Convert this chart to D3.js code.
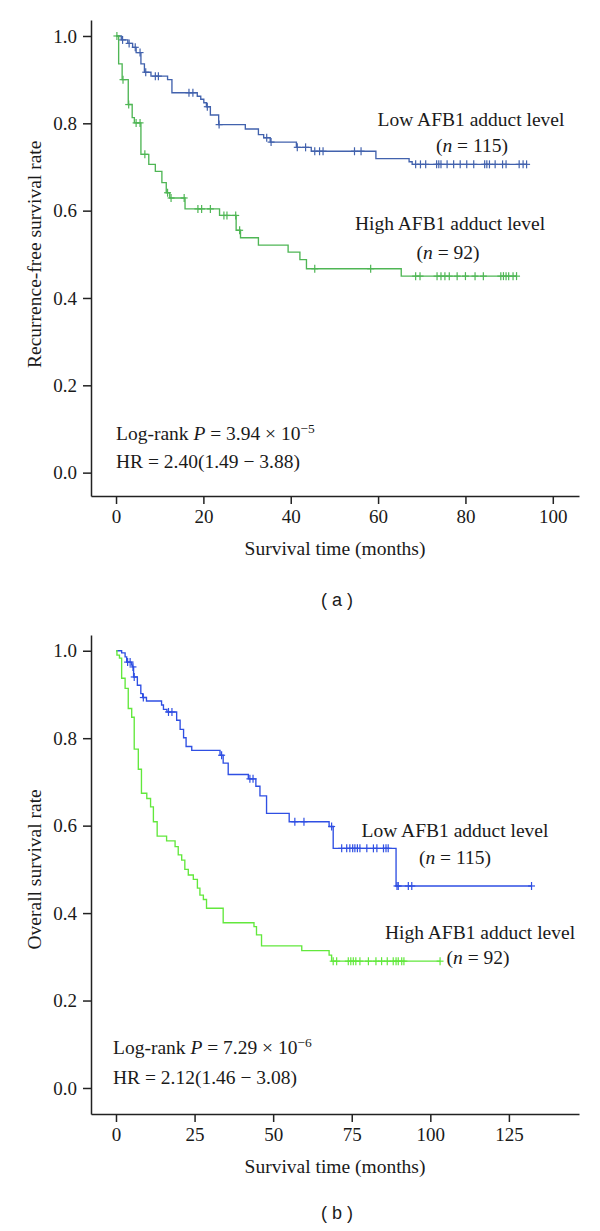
<!DOCTYPE html>
<html><head><meta charset="utf-8">
<script src="https://cdn.jsdelivr.net/npm/d3@7/dist/d3.min.js"></script>
<style>
body{margin:0;background:#fff;}
svg{display:block;}
text{fill:#1a1a1a;}
</style></head>
<body>
<svg id="c" width="600" height="1231"></svg>
<script>
// ---------- DATA ----------
const survTicks = [0, 0.2, 0.4, 0.6, 0.8, 1.0];
const timeTicksA = [0, 20, 40, 60, 80, 100];
const timeTicksB = [0, 25, 50, 75, 100, 125];

// Panel (a): recurrence-free survival. events: [time (months), survival after drop]
const lowEventsA = [[1.2,0.991],[2.7,0.983],[3.8,0.974],[4.6,0.962],[5.7,0.936],[6.5,0.917],[8.0,0.908],
  [11.8,0.900],[12.8,0.870],[18.6,0.862],[19.4,0.855],[20.1,0.847],[20.7,0.838],[21.6,0.819],[23.5,0.797],
  [29.6,0.787],[32.6,0.774],[33.8,0.767],[35.3,0.757],[41.3,0.745],[44.7,0.736],[59.5,0.719],[67.1,0.712],[67.8,0.706]];
const lowCensorA = [1.5,3.0,4.4,5.5,6.8,9.0,9.7,16.7,17.6,20.9,23.6,34.5,35.5,41.5,43.4,45.5,46.6,47.4,54.6,56.1,
  68.6,69.7,70.9,73.4,73.9,74.4,75.8,77.3,78.8,80.3,81.9,84.4,84.9,85.5,86.8,88.5,89.3,92.3,93.2,94.0];
const highEventsA = [[0.6,0.936],[1.4,0.900],[2.8,0.843],[3.7,0.813],[4.2,0.801],[5.7,0.729],[7.5,0.706],[9.0,0.690],
  [10.5,0.664],[11.5,0.641],[12.3,0.629],[15.8,0.604],[23.7,0.589],[27.5,0.555],[28.5,0.538],[32.6,0.521],
  [39.4,0.505],[42.1,0.488],[43.6,0.467],[65.3,0.450]];
const highCensorA = [0.2,1.6,2.9,4.6,5.5,6.6,11.8,12.6,15.6,18.75,19.6,21.6,24.7,25.4,27.4,28.3,45.5,58.3,
  68.6,69.6,73.5,74.4,75.3,76.3,78.1,80.0,82.2,84.1,88.1,88.7,89.3,89.9,90.9,91.7];

// Panel (b): overall survival
const lowEventsB = [[1.8,0.995],[2.9,0.986],[3.4,0.974],[5.0,0.967],[5.3,0.963],[5.6,0.940],[6.8,0.921],[7.9,0.902],
  [8.5,0.893],[9.7,0.885],[14.5,0.876],[15.1,0.866],[16.2,0.860],[19.3,0.841],[20.4,0.820],[21.5,0.801],[22.3,0.781],
  [24.1,0.772],[33.1,0.761],[34.1,0.743],[35.7,0.717],[42.1,0.707],[44.5,0.690],[45.8,0.668],[47.9,0.628],
  [55.1,0.609],[67.8,0.598],[69.1,0.548],[89.1,0.462]];
const lowCensorB = [3.7,4.5,5.4,5.8,8.7,16.7,17.8,33.6,42.6,43.6,56.9,59.8,68.6,71.8,73.4,74.4,75.3,76.0,76.8,77.6,
  79.8,81.9,83.0,85.1,85.9,86.6,89.4,89.8,93.0,94.1,132.2];
const highEventsB = [[0.3,0.990],[1.1,0.983],[1.8,0.937],[2.9,0.914],[3.9,0.868],[5.0,0.848],[5.8,0.775],[7.1,0.729],
  [8.1,0.674],[9.8,0.662],[11.0,0.643],[11.9,0.609],[13.1,0.576],[16.1,0.565],[18.8,0.552],[19.8,0.533],[20.9,0.521],
  [21.9,0.500],[23.0,0.487],[24.6,0.477],[25.9,0.457],[26.7,0.441],[27.8,0.431],[28.8,0.411],[34.1,0.378],
  [43.9,0.369],[44.7,0.350],[46.3,0.325],[59.1,0.314],[67.8,0.304],[68.6,0.290]];
const highCensorB = [69.1,70.2,73.9,74.7,75.5,76.3,77.6,80.3,82.7,84.5,86.3,88.2,89.1,89.8,90.9,91.6,103.1];

const groupLabels = ["Low AFB1 adduct level", "High AFB1 adduct level"];
const groupN = [115, 92];

// ---------- DRAW ----------
const SERIF = '"Liberation Serif","Times New Roman",serif';
const SANS = '"Liberation Sans",Arial,sans-serif';
const svg = d3.select("#c");
svg.append("rect").attr("width",600).attr("height",1231).attr("fill","#fff");

function txt(g, size){
  return g.append("text").style("font-family", SERIF).style("font-size", size + "px");
}

function panel(cfg){
  const g = svg.append("g");
  const x = d3.scaleLinear().domain(cfg.xDomain).range([91, 579]);
  const y = d3.scaleLinear().domain(cfg.yDomain).range([cfg.bottom, cfg.top]);

  // curves
  cfg.series.forEach(s => {
    const end = d3.max(s.censor);
    const pts = [[0,1]].concat(s.events).concat([[end, s.events[s.events.length-1][1]]]);
    g.append("path")
      .attr("d", d3.line().x(d=>x(d[0])).y(d=>y(d[1])).curve(d3.curveStepAfter)(pts))
      .attr("fill","none").attr("stroke", s.color).attr("stroke-width",1.35);
    const sAt = t => { let v = 1; s.events.forEach(e => { if (e[0] <= t) v = e[1]; }); return v; };
    const cg = g.append("g").attr("stroke", s.color).attr("stroke-width",1.2);
    s.censor.forEach(t => {
      const cx = x(t), cy = y(sAt(t));
      cg.append("line").attr("x1",cx).attr("x2",cx).attr("y1",cy-4).attr("y2",cy+4);
      cg.append("line").attr("x1",cx-3.5).attr("x2",cx+3.5).attr("y1",cy).attr("y2",cy);
    });
  });

  // axes
  const ax = g.append("g").attr("transform",`translate(0,${cfg.bottom})`)
    .call(d3.axisBottom(x).tickValues(cfg.xTicks).tickSizeInner(8).tickSizeOuter(0).tickPadding(6).tickFormat(d3.format("d")));
  const ay = g.append("g").attr("transform","translate(91,0)")
    .call(d3.axisLeft(y).tickValues(survTicks).tickSizeInner(8).tickSizeOuter(0).tickPadding(6).tickFormat(d3.format(".1f")));
  [ax, ay].forEach(a => {
    a.selectAll("path,line").attr("stroke","#222").attr("stroke-width",1.5);
    a.selectAll("text").style("font-family",SERIF).style("font-size","19px").attr("fill","#1a1a1a");
  });

  // titles
  txt(g,19.5).attr("x",335).attr("y",cfg.bottom+52).attr("dy","0.35em").attr("text-anchor","middle")
    .text("Survival time (months)");
  txt(g,19.5).attr("transform",`translate(34,${(y(0)+y(1))/2}) rotate(-90)`).attr("dy","0.35em")
    .attr("text-anchor","middle").text(cfg.yTitle);

  // group labels
  cfg.labels.forEach((l,i) => {
    txt(g,19.5).attr("x",l.x).attr("y",l.y).attr("dy","0.35em").attr("text-anchor","middle").text(groupLabels[i]);
    const t = txt(g,19.5).attr("x",l.nx).attr("y",l.ny).attr("dy","0.35em").attr("text-anchor","middle");
    t.append("tspan").text("(");
    t.append("tspan").style("font-style","italic").text("n");
    t.append("tspan").text(" = " + groupN[i] + ")");
  });

  // statistics
  const t1 = txt(g,19.5).attr("x",cfg.statX).attr("y",cfg.statY1).attr("dy","0.35em");
  t1.append("tspan").text("Log-rank ");
  t1.append("tspan").style("font-style","italic").text("P");
  t1.append("tspan").text(" = " + cfg.p + " \u00d7 10");
  t1.append("tspan").style("font-size","13.5px").attr("dy","-7").text("\u2212" + cfg.pExp);
  txt(g,19.5).attr("x",cfg.statX).attr("y",cfg.statY2).attr("dy","0.35em").text(cfg.hr);

  // panel letter
  g.append("text").attr("x",337).attr("y",cfg.letterY).attr("dy","0.35em").attr("text-anchor","middle")
    .style("font-family",SANS).style("font-size","18px").text(cfg.letter);
}

panel({
  xDomain: [-5.73, 106.0], yDomain: [-0.0535, 1.0366], top: 20, bottom: 496,
  xTicks: timeTicksA, yTitle: "Recurrence-free survival rate",
  series: [
    {events: lowEventsA, censor: lowCensorA, color: "#4262ad"},
    {events: highEventsA, censor: highCensorA, color: "#4fb655"}
  ],
  labels: [{x:471, y:119, nx:472, ny:145}, {x:450, y:223, nx:448, ny:252}],
  statX: 116, statY1: 433, statY2: 461, p: "3.94", pExp: "5", hr: "HR = 2.40(1.49 \u2212 3.88)",
  letter: "( a )", letterY: 600
});

panel({
  xDomain: [-7.95, 147.3], yDomain: [-0.0595, 1.036], top: 635, bottom: 1114,
  xTicks: timeTicksB, yTitle: "Overall survival rate",
  series: [
    {events: lowEventsB, censor: lowCensorB, color: "#2f4fe3"},
    {events: highEventsB, censor: highCensorB, color: "#62e83c"}
  ],
  labels: [{x:455, y:830, nx:455, ny:857}, {x:480, y:932, nx:478, ny:957}],
  statX: 113, statY1: 1047, statY2: 1077, p: "7.29", pExp: "6", hr: "HR = 2.12(1.46 \u2212 3.08)",
  letter: "( b )", letterY: 1213
});
</script>
</body></html>
